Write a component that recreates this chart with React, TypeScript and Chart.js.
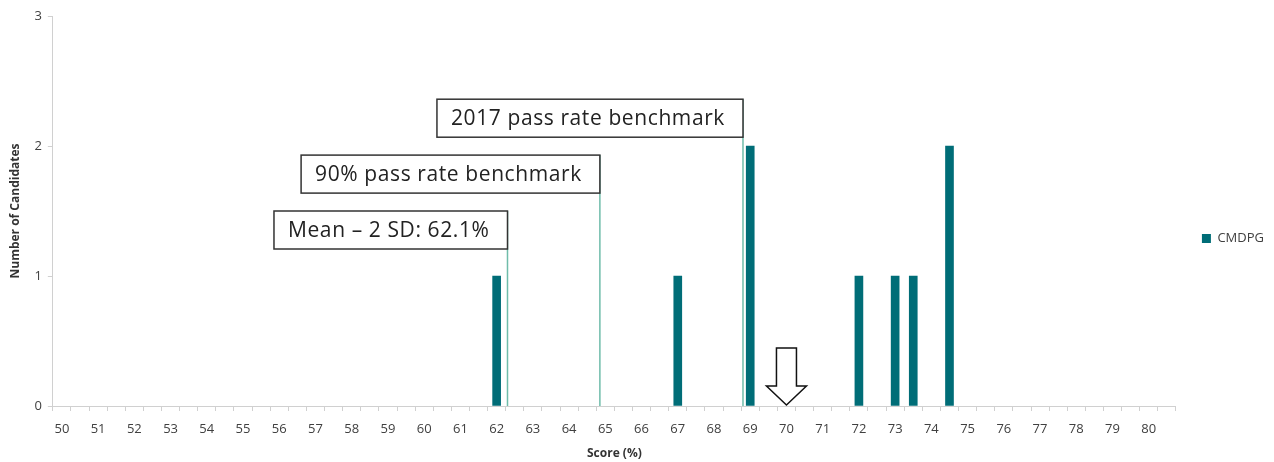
import React, { useEffect, useRef } from "react";
import { Chart, registerables } from "chart.js";

Chart.register(...registerables);

// Categories: half-point score bins from 50 to 80.5 (only whole numbers labelled)
const categories: string[] = [];
for (let i = 0; i <= 61; i++) categories.push(String(50 + i * 0.5));

// Observed scores and number of candidates
const scores = [62, 67, 69, 72, 73, 73.5, 74.5];
const candidates = [1, 1, 2, 1, 1, 1, 2];

// Benchmarks (vertical lines with labelled boxes)
const benchValues = [62.3, 64.85, 68.8];
const benchLabels = ["Mean – 2 SD: 62.1%", "90% pass rate benchmark", "2017 pass rate benchmark"];
const benchBoxTop = [1.5, 1.93, 2.36];

// Arrow marker
const arrowAt = [70];

const yTicks = [0, 1, 2, 3];

const BAR = "#006d77";
const LINE = "#6fbcaa";
const FONT = "'Open Sans', 'DejaVu Sans', sans-serif";

export default function App() {
  const ref = useRef<HTMLCanvasElement | null>(null);

  useEffect(() => {
    if (!ref.current) return;
    const barData = categories.map((c) => {
      const idx = scores.findIndex((s) => String(s) === c);
      return idx >= 0 ? candidates[idx] : null;
    });

    const annot = {
      id: "annot",
      afterDatasetsDraw(chart: any) {
        const ctx = chart.ctx;
        const x2 = chart.scales.x2;
        const y = chart.scales.y;
        ctx.save();
        ctx.font = `21px ${FONT}`;
        try {
          (ctx as any).letterSpacing = "0.6px";
        } catch (e) {}
        benchValues.forEach((v, i) => {
          const right = x2.getPixelForValue(v);
          const top = y.getPixelForValue(benchBoxTop[i]);
          const tw = ctx.measureText(benchLabels[i]).width;
          const w = tw + 32;
          const h = 38;
          const left = right - w;
          ctx.fillStyle = "#ffffff";
          ctx.fillRect(left, top, w, h);
          ctx.strokeStyle = "#333333";
          ctx.lineWidth = 1.5;
          ctx.strokeRect(left, top, w, h);
          ctx.fillStyle = "#222222";
          ctx.textBaseline = "middle";
          ctx.textAlign = "left";
          ctx.fillText(benchLabels[i], left + 14, top + h / 2 + 1);
        });
        try {
          (ctx as any).letterSpacing = "0px";
        } catch (e) {}
        arrowAt.forEach((v) => {
          const cx = x2.getPixelForValue(v);
          const tip = y.getPixelForValue(0) - 1;
          ctx.beginPath();
          ctx.moveTo(cx - 10, tip - 57);
          ctx.lineTo(cx + 10, tip - 57);
          ctx.lineTo(cx + 10, tip - 19);
          ctx.lineTo(cx + 20, tip - 19);
          ctx.lineTo(cx, tip);
          ctx.lineTo(cx - 20, tip - 19);
          ctx.lineTo(cx - 10, tip - 19);
          ctx.closePath();
          ctx.fillStyle = "#ffffff";
          ctx.fill();
          ctx.strokeStyle = "#111111";
          ctx.lineWidth = 1.5;
          ctx.stroke();
        });
        ctx.restore();
      },
    };

    const lineSets = benchValues.map((v, i) => ({
      type: "line" as const,
      label: benchLabels[i],
      xAxisID: "x2",
      yAxisID: "y",
      data: [
        { x: v, y: 0 },
        { x: v, y: benchBoxTop[i] },
      ],
      borderColor: LINE,
      borderWidth: 1.5,
      pointRadius: 0,
      fill: false,
      order: 2,
    }));

    const chart = new Chart(ref.current, {
      type: "bar",
      data: {
        labels: categories,
        datasets: [
          {
            type: "bar",
            label: "CMDPG",
            data: barData as any,
            backgroundColor: BAR,
            borderWidth: 0,
            barThickness: 8,
            grouped: false,
            xAxisID: "x",
            yAxisID: "y",
            order: 1,
          } as any,
          ...(lineSets as any[]),
        ],
      },
      options: {
        animation: false,
        responsive: false,
        maintainAspectRatio: false,
        layout: { padding: { top: 16, right: 0, left: 8, bottom: 1 } },
        plugins: {
          tooltip: { enabled: false },
          legend: {
            position: "right",
            labels: {
              filter: (item: any) => item.text === "CMDPG",
              boxWidth: 9,
              boxHeight: 9,
              font: { family: FONT, size: 13 },
              color: "#404040",
              padding: 26,
            },
          },
        },
        scales: {
          x: {
            type: "category",
            offset: true,
            grid: {
              offset: true,
              drawOnChartArea: false,
              tickLength: 5,
              color: "#d0d0d0",
            },
            border: { color: "#d0d0d0" },
            ticks: {
              autoSkip: false,
              maxRotation: 0,
              minRotation: 0,
              padding: 10,
              color: "#404040",
              font: { family: FONT, size: 13 },
              callback: (_v: any, i: number) => {
                const n = Number(categories[i]);
                return Number.isInteger(n) ? String(n) : "";
              },
            },
            title: {
              display: true,
              text: "Score (%)",
              color: "#333333",
              font: { family: FONT, size: 12, weight: "bold" },
              padding: { top: 0, bottom: 0 },
            },
          },
          x2: {
            type: "linear",
            display: false,
            offset: false,
            min: 49.75,
            max: 80.75,
          },
          y: {
            min: 0,
            max: 3,
            afterBuildTicks: (s: any) => {
              s.ticks = yTicks.map((v) => ({ value: v }));
            },
            grid: { drawOnChartArea: false, tickLength: 5, color: "#d0d0d0" },
            border: { color: "#d0d0d0" },
            ticks: {
              color: "#404040",
              font: { family: FONT, size: 13 },
              padding: 6,
            },
            title: {
              display: true,
              text: "Number of Candidates",
              color: "#333333",
              font: { family: FONT, size: 12, weight: "bold" },
              padding: { top: 0, bottom: 6 },
            },
          },
        },
      } as any,
      plugins: [annot],
    });
    return () => chart.destroy();
  }, []);

  return (
    <div style={{ position: "absolute", left: 0, top: 0, width: 1274, height: 462, background: "#fff" }}>
      <canvas ref={ref} width={1274} height={462} style={{ width: 1274, height: 462 }} />
    </div>
  );
}
